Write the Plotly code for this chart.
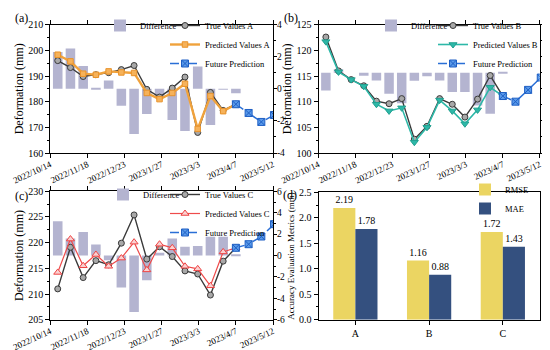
import plotly.graph_objects as go

# ---------------- data ----------------
dates = ["2022-10-21", "2022-11-02", "2022-11-14", "2022-11-26", "2022-12-08",
         "2022-12-20", "2023-01-01", "2023-01-13", "2023-01-25", "2023-02-06",
         "2023-02-18", "2023-03-02", "2023-03-14", "2023-03-26", "2023-04-07"]
future_dates = ["2023-04-07", "2023-04-19", "2023-05-01", "2023-05-13"]

tick_dates = ["2022-10-14", "2022-11-18", "2022-12-23", "2023-01-27",
              "2023-03-03", "2023-04-07", "2023-05-12"]
tick_labels = ["2022/10/14", "2022/11/18", "2022/12/23", "2023/1/27",
               "2023/3/3", "2023/4/7", "2023/5/12"]

true_a = [196.0, 193.3, 189.8, 190.5, 191.3, 192.5, 194.1, 184.8, 181.8, 185.3,
          189.6, 168.0, 183.6, 176.6, 179.0]
pred_a = [198.3, 195.7, 190.9, 190.5, 191.8, 191.4, 191.2, 183.4, 181.0, 183.4,
          187.0, 169.4, 182.2, 176.3, 179.0]
diff_a = [2.3, 2.52, 1.42, 0.03, 0.52, -1.06, -2.82, -1.57, -0.58, -1.94,
          -2.63, 1.4, -2.25, -0.04, -0.27]
future_a = [179.0, 175.6, 172.1, 174.8]
diff_ticks_a = [-4, -2, 0, 2, 4]

true_b = [122.6, 116.0, 114.3, 113.1, 110.1, 109.6, 110.6, 102.7, 105.2, 110.6,
          109.5, 107.0, 110.5, 115.1, 111.1]
pred_b = [121.7, 115.8, 114.3, 113.0, 109.5, 108.2, 108.8, 102.1, 105.0, 110.3,
          108.2, 105.7, 108.4, 112.8, 111.1]
diff_b = [-1.1, 0.22, 0.0, -0.18, -0.48, -1.3, -1.9, -0.5, -0.22, -0.48,
          -1.2, -1.2, -2.04, -2.56, 0.05]
future_b = [111.1, 110.0, 112.3, 114.7]
diff_ticks_b = [-4, -2, 0, 2]

true_c = [211.0, 219.1, 213.2, 216.5, 215.7, 219.9, 225.4, 216.8, 219.2, 217.3,
          214.5, 213.9, 209.8, 216.4, 219.0]
pred_c = [214.2, 220.7, 215.5, 217.7, 215.4, 217.0, 220.1, 214.7, 219.7, 219.0,
          215.4, 214.9, 211.6, 218.2, 219.0]
diff_c = [3.2, 1.6, 2.2, 1.03, -0.44, -3.0, -5.28, -2.31, 0.25, 1.6,
          0.81, 0.88, 1.75, 1.75, 0.03]
future_c = [219.0, 219.7, 221.2, 223.6]
diff_ticks_c = [-6, -4, -2, 0, 2, 4, 6]

metric_sites = ["A", "B", "C"]
rmse = [2.19, 1.16, 1.72]
mae = [1.78, 0.88, 1.43]

# ---------------- styling ----------------
W, H = 550, 350
FONT = "Liberation Serif, Times New Roman, serif"
BAR_COLOR = "#B4B4D0"
TRUE_COLOR = "#3A3A3A"
FUT_COLOR = "#2A6FD6"
BAR_MS = 9 * 24 * 3600 * 1000


def fx(p):
    return p / W


def fy(p):
    return 1 - p / H


fig = go.Figure()

panels = [
    dict(x="x", yr="y", yl="y2", lg1="legend", lg2="legend2",
         true=true_a, pred=pred_a, diff=diff_a, fut=future_a,
         pcol="#F0A23C", pmk=dict(symbol="square", size=5.5, color="#F6B25A",
                                  line=dict(color="#E8922A", width=1)),
         pw=2.4, tname="True Values A", pname="Predicted Values A"),
    dict(x="x2", yr="y3", yl="y4", lg1="legend3", lg2="legend4",
         true=true_b, pred=pred_b, diff=diff_b, fut=future_b,
         pcol="#2DB8A8", pmk=dict(symbol="triangle-down", size=7, color="#2DB8A8",
                                  line=dict(color="#22A090", width=1)),
         pw=1.6, tname="True Values B", pname="Predicted Values B"),
    dict(x="x3", yr="y5", yl="y6", lg1="legend5", lg2="legend6",
         true=true_c, pred=pred_c, diff=diff_c, fut=future_c,
         pcol="#EE4B4B", pmk=dict(symbol="triangle-up", size=7, color="#FAD0D0",
                                  line=dict(color="#EE4444", width=1)),
         pw=1.2, tname="True Values C", pname="Predicted Values C"),
]

for p in panels:
    fig.add_trace(go.Bar(x=dates, y=p["diff"], width=BAR_MS, name="Difference",
                         marker=dict(color=BAR_COLOR, line=dict(width=0)),
                         xaxis=p["x"], yaxis=p["yr"], legend=p["lg1"]))
    fig.add_trace(go.Scatter(x=dates, y=p["true"], mode="lines+markers",
                             name=p["tname"], xaxis=p["x"], yaxis=p["yl"],
                             legend=p["lg2"],
                             line=dict(color=TRUE_COLOR, width=1.4),
                             marker=dict(symbol="circle", size=6, color="#A8A8A8",
                                         line=dict(color=TRUE_COLOR, width=1))))
    fig.add_trace(go.Scatter(x=dates, y=p["pred"], mode="lines+markers",
                             name=p["pname"], xaxis=p["x"], yaxis=p["yl"],
                             legend=p["lg2"],
                             line=dict(color=p["pcol"], width=p["pw"]),
                             marker=p["pmk"]))
    fig.add_trace(go.Scatter(x=future_dates, y=p["fut"], mode="lines+markers",
                             name="Future Prediction", xaxis=p["x"], yaxis=p["yl"],
                             legend=p["lg2"],
                             line=dict(color=FUT_COLOR, width=1.5, dash="dashdot"),
                             marker=dict(symbol="square-x", size=7, color="#5A9AEA",
                                         line=dict(color="#1E5FC4", width=1))))

fig.add_trace(go.Bar(x=metric_sites, y=rmse, name="RMSE",
                     text=[f"{v:.2f}" for v in rmse], textposition="outside",
                     textfont=dict(size=10, color="black", family=FONT),
                     marker=dict(color="#EBD562", line=dict(width=0)),
                     xaxis="x4", yaxis="y7", legend="legend7", cliponaxis=False))
fig.add_trace(go.Bar(x=metric_sites, y=mae, name="MAE",
                     text=[f"{v:.2f}" for v in mae], textposition="outside",
                     textfont=dict(size=10, color="black", family=FONT),
                     marker=dict(color="#34507F", line=dict(width=0)),
                     xaxis="x4", yaxis="y7", legend="legend7", cliponaxis=False))

# ---------------- axes ----------------
TICKF = dict(family=FONT, size=10, color="black")
common = dict(showline=True, linecolor="black", linewidth=1, ticks="outside",
              ticklen=4, tickcolor="black", showgrid=False, zeroline=False,
              tickfont=TICKF, automargin=False)

dom_left = [fx(42.3), fx(265)]
dom_right = [fx(310.5), fx(531.7)]
dom_top = [fy(145), fy(16.7)]
dom_bot = [fy(311.7), fy(183.3)]


def date_axis(dom, anchor):
    return dict(common, domain=dom, anchor=anchor, type="date",
                range=["2022-10-14", "2023-05-12"], tickvals=tick_dates,
                ticktext=tick_labels, tickangle=-25, mirror="ticks",
                ticklabelstandoff=-2,
                tickfont=dict(family=FONT, size=9, color="black"))


def right_axis(dom, anchor, rng, tickvals):
    return dict(common, domain=dom, anchor=anchor, side="right", range=rng,
                tickvals=tickvals, ticktext=[str(v) for v in tickvals],
                ticklen=3, ticklabelstandoff=-2,
                tickfont=dict(family=FONT, size=9.5, color="black"),
                minor=dict(ticks="outside", ticklen=2, dtick=1,
                           tickcolor="black"))


def left_axis(anchor, base, rng, dtick, minor):
    return dict(common, anchor=anchor, overlaying=base, side="left", range=rng,
                dtick=dtick, minor=dict(ticks="outside", ticklen=2, dtick=minor,
                                        tickcolor="black"),
                title=dict(text="Deformation (mm)", standoff=2,
                           font=dict(family=FONT, size=12, color="black")))


fig.update_layout(
    xaxis=date_axis(dom_left, "y"),
    yaxis=right_axis(dom_top, "x", [-4, 4], diff_ticks_a),
    yaxis2=left_axis("x", "y", [160, 210], 10, 5),
    xaxis2=date_axis(dom_right, "y3"),
    yaxis3=right_axis(dom_top, "x2", [-5, 3], diff_ticks_b),
    yaxis4=left_axis("x2", "y3", [100, 125], 5, 2.5),
    xaxis3=date_axis(dom_left, "y5"),
    yaxis5=right_axis(dom_bot, "x3", [-6, 6], diff_ticks_c),
    yaxis6=left_axis("x3", "y5", [205, 230], 5, 2.5),
    xaxis4=dict(common, domain=dom_right, anchor="y7", type="category",
                mirror=True),
    yaxis7=dict(common, domain=[fy(311.7), fy(184.3)], anchor="x4",
                range=[0, 2.5], dtick=0.5, tickformat=".1f", mirror=True,
                minor=dict(ticks="outside", ticklen=2, dtick=0.25,
                           tickcolor="black"),
                title=dict(text="Accuracy Evaluation Metrics (mm)", standoff=2,
                           font=dict(family=FONT, size=9, color="black"))),
)

LEGF = dict(family=FONT, size=8.5, color="black")


def leg(xp, yp):
    return dict(x=fx(xp), y=fy(yp), xanchor="left", yanchor="top",
                bgcolor="rgba(0,0,0,0)", font=LEGF, itemwidth=30,
                tracegroupgap=0)


fig.update_layout(
    legend=leg(92, 3), legend2=leg(157, 3),
    legend3=leg(363, 3), legend4=leg(425, 3),
    legend5=leg(95, 172), legend6=leg(157, 172),
    legend7=leg(457, 167),
)

labels = [("(a)", 5, 10), ("(b)", 274, 10), ("(c)", 5, 188), ("(d)", 273, 187)]
fig.update_layout(annotations=[
    dict(text=t, x=fx(xp), y=fy(yp), xref="paper", yref="paper",
         xanchor="left", yanchor="middle", showarrow=False,
         font=dict(family=FONT, size=12, color="black")) for t, xp, yp in labels
])

fig.update_layout(width=W, height=H, autosize=False,
                  margin=dict(l=0, r=0, t=0, b=0, autoexpand=False),
                  paper_bgcolor="white", plot_bgcolor="rgba(0,0,0,0)",
                  barmode="group", bargap=0.4, font=dict(family=FONT, color="black"),
                  showlegend=True)

fig.write_html("out.html")
